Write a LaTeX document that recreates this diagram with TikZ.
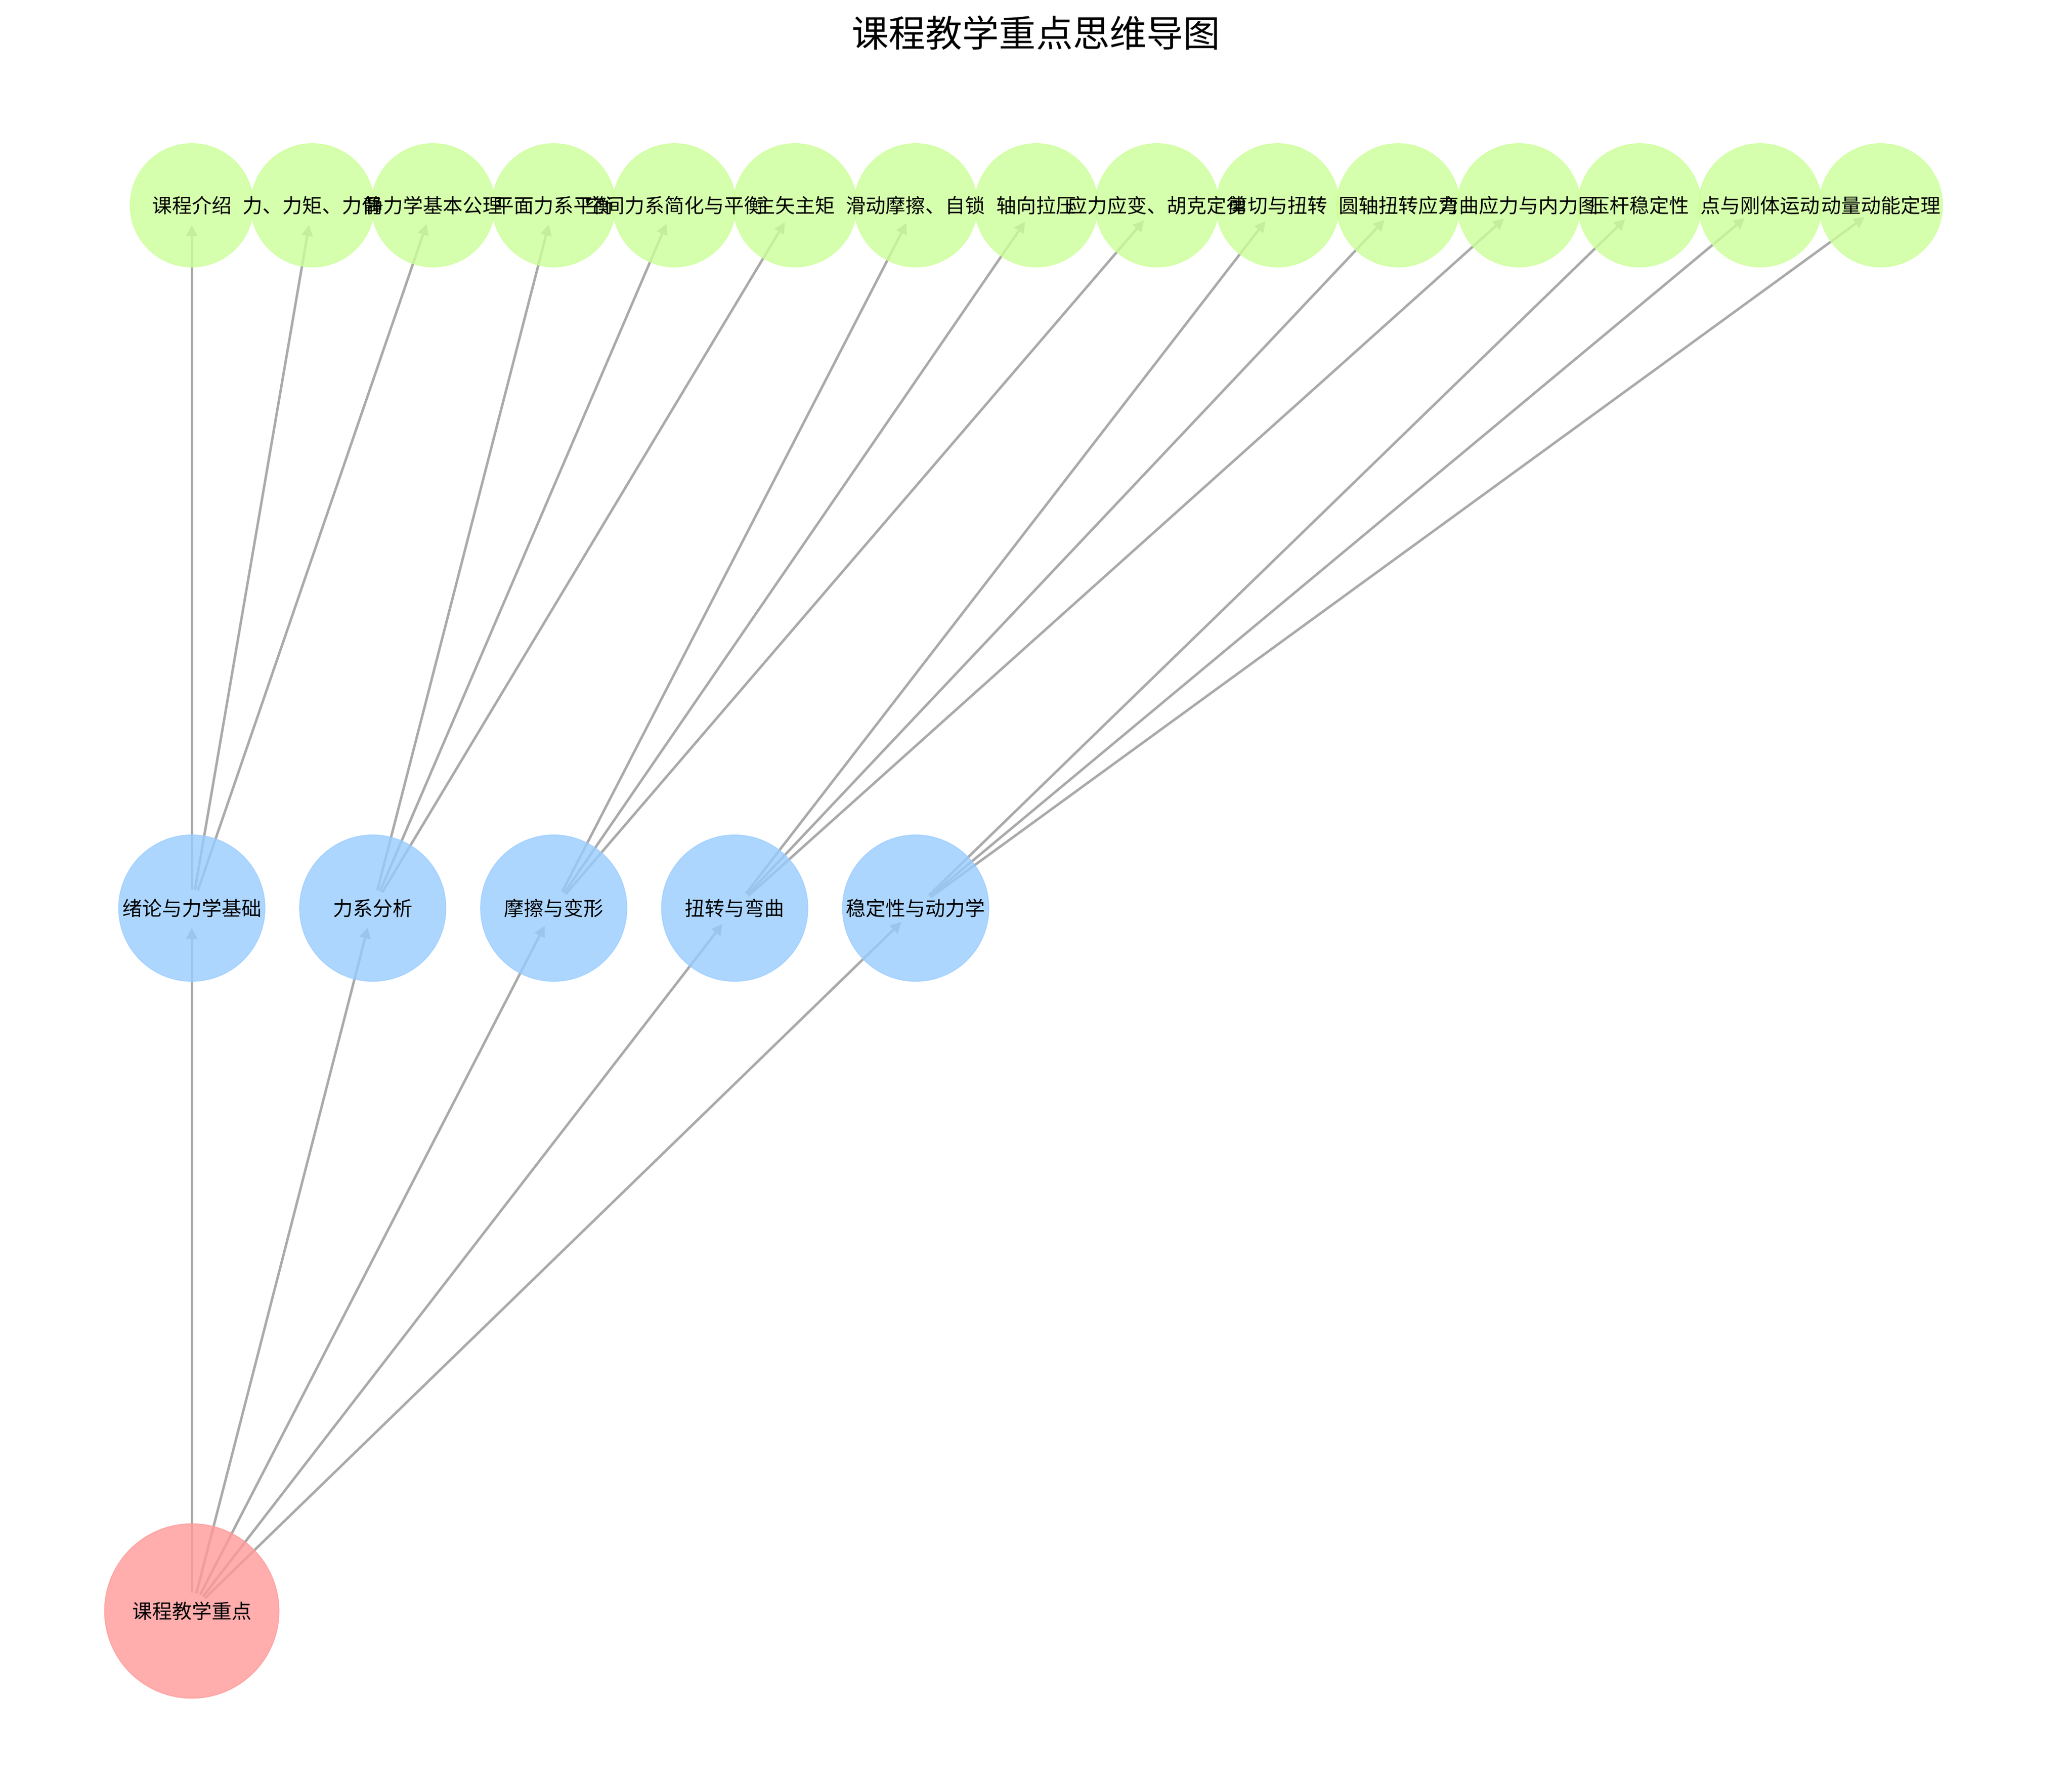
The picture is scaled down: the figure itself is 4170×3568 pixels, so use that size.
\documentclass[tikz,border=0pt]{standalone}
\usepackage{fontspec}
\setmainfont{Noto Sans CJK SC}
\usetikzlibrary{arrows.meta}
\definecolor{rootc}{HTML}{FF9999}
\definecolor{midc}{HTML}{99CCFF}
\definecolor{leafc}{HTML}{CCFF99}
\definecolor{edgec}{HTML}{AAAAAA}
\pgfdeclarelayer{edgelayer}
\pgfdeclarelayer{textlayer}
\pgfsetlayers{edgelayer,main,textlayer}
\tikzset{
  bubble/.style={circle, inner sep=0pt, fill opacity=0.8, draw opacity=0.8, line width=0.45pt},
  leaf/.style={bubble, minimum size=59.5pt, fill=leafc, draw=leafc},
  mid/.style={bubble, minimum size=70.6pt, fill=midc, draw=midc},
  rootnode/.style={bubble, minimum size=84.2pt, fill=rootc, draw=rootc},
  lbl/.style={inner sep=0pt, font=\fontsize{9.6}{11}\selectfont},
  link/.style={draw=edgec, line width=1.2pt, -{Triangle[length=5.3pt,width=5.3pt]}, shorten <=8.9pt, shorten >=9.6pt}
}
\begin{document}
\begin{tikzpicture}[x=0.24pt, y=-0.24pt]
\useasboundingbox (0,0) rectangle (4170,3568);
% title
\node[inner sep=0pt, font=\fontsize{17.8}{20}\selectfont] (title) at (2085,66) {课程教学重点思维导图};
% circles
\node[rootnode] (r) at (386,3241) {};
\node[mid] (m1) at (386,1827) {};
\node[mid] (m2) at (750.2,1827) {};
\node[mid] (m3) at (1114.4,1827) {};
\node[mid] (m4) at (1478.6,1827) {};
\node[mid] (m5) at (1842.8,1827) {};
\node[leaf] (t1) at (386,413) {};
\node[leaf] (t2) at (628.8,413) {};
\node[leaf] (t3) at (871.6,413) {};
\node[leaf] (t4) at (1114.4,413) {};
\node[leaf] (t5) at (1357.2,413) {};
\node[leaf] (t6) at (1600,413) {};
\node[leaf] (t7) at (1842.8,413) {};
\node[leaf] (t8) at (2085.6,413) {};
\node[leaf] (t9) at (2328.4,413) {};
\node[leaf] (t10) at (2571.2,413) {};
\node[leaf] (t11) at (2814,413) {};
\node[leaf] (t12) at (3056.8,413) {};
\node[leaf] (t13) at (3299.6,413) {};
\node[leaf] (t14) at (3542.4,413) {};
\node[leaf] (t15) at (3785.2,413) {};
% edges
\begin{pgfonlayer}{edgelayer}
\foreach \m in {1,...,5} {\draw[link] (r.center) -- (m\m.center);}
\foreach \t in {1,2,3} {\draw[link] (m1.center) -- (t\t.center);}
\foreach \t in {4,5,6} {\draw[link] (m2.center) -- (t\t.center);}
\foreach \t in {7,8,9} {\draw[link] (m3.center) -- (t\t.center);}
\foreach \t in {10,11,12} {\draw[link] (m4.center) -- (t\t.center);}
\foreach \t in {13,14,15} {\draw[link] (m5.center) -- (t\t.center);}
\end{pgfonlayer}
% labels
\begin{pgfonlayer}{textlayer}
\node[lbl] (rl) at (r) {课程教学重点};
\node[lbl] (m1l) at (m1) {绪论与力学基础};
\node[lbl] (m2l) at (m2) {力系分析};
\node[lbl] (m3l) at (m3) {摩擦与变形};
\node[lbl] (m4l) at (m4) {扭转与弯曲};
\node[lbl] (m5l) at (m5) {稳定性与动力学};
\node[lbl] (t1l) at (t1) {课程介绍};
\node[lbl] (t2l) at (t2) {力、力矩、力偶};
\node[lbl] (t3l) at (t3) {静力学基本公理};
\node[lbl] (t4l) at (t4) {平面力系平衡};
\node[lbl] (t5l) at (t5) {空间力系简化与平衡};
\node[lbl] (t6l) at (t6) {主矢主矩};
\node[lbl] (t7l) at (t7) {滑动摩擦、自锁};
\node[lbl] (t8l) at (t8) {轴向拉压};
\node[lbl] (t9l) at (t9) {应力应变、胡克定律};
\node[lbl] (t10l) at (t10) {剪切与扭转};
\node[lbl] (t11l) at (t11) {圆轴扭转应力};
\node[lbl] (t12l) at (t12) {弯曲应力与内力图};
\node[lbl] (t13l) at (t13) {压杆稳定性};
\node[lbl] (t14l) at (t14) {点与刚体运动};
\node[lbl] (t15l) at (t15) {动量动能定理};
\end{pgfonlayer}
\end{tikzpicture}
\end{document}
